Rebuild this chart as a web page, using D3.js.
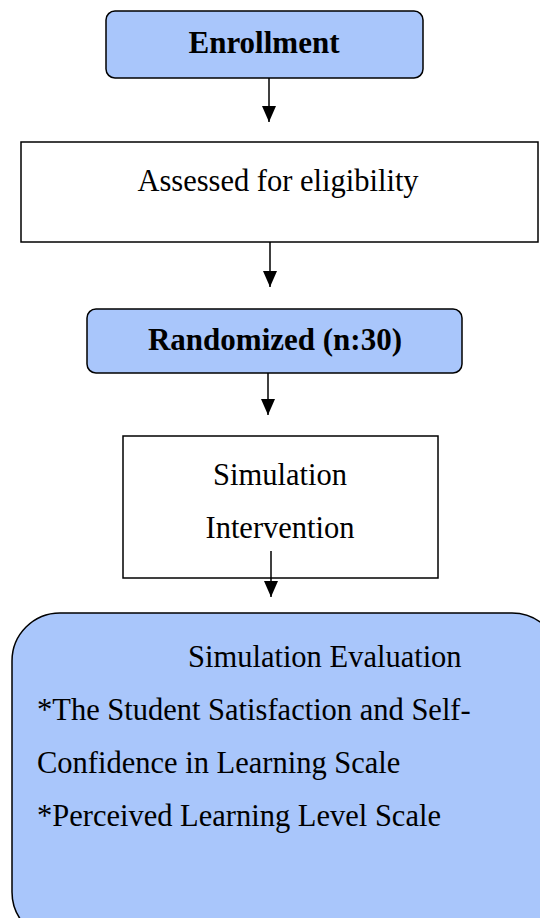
<!DOCTYPE html>
<html>
<head>
<meta charset="utf-8">
<script src="https://cdn.jsdelivr.net/npm/d3@7"></script>
<style>
  body { margin: 0; background: #fff; }
  svg { display: block; }
</style>
</head>
<body>
<div id="chart"></div>
<script>
// flow steps, top to bottom
var stepNames = ["Enrollment", "Assessed for eligibility", "Randomized (n:30)", "Simulation Intervention", "Simulation Evaluation"];
var stepLines = [
    ["Enrollment"],
    ["Assessed for eligibility"],
    ["Randomized (n:30)"],
    ["Simulation", "Intervention"],
    ["Simulation Evaluation", "*The Student Satisfaction and Self-", "Confidence in Learning Scale", "*Perceived Learning Level Scale"]
];
var stepBold = [true, false, true, false, false];
var stepFilled = [true, false, true, false, true];

var w = 540, h = 918;

// box layout (x0, y0, x1, y1, corner radius)
var boxes = [
    { x0: 106, y0: 11, x1: 423, y1: 78, r: 9 },
    { x0: 21, y0: 142, x1: 538, y1: 242, r: 0 },
    { x0: 87, y0: 309, x1: 462, y1: 373, r: 9 },
    { x0: 123, y0: 436, x1: 438, y1: 578, r: 0 },
    { x0: 12, y0: 613, x1: 560, y1: 940, r: 48 }
];
// text placement: anchor x, first baseline, line step, alignment
var textPos = [
    { x: 264, y: 53, dy: 0, anchor: "middle" },
    { x: 278, y: 191, dy: 0, anchor: "middle" },
    { x: 275, y: 350, dy: 0, anchor: "middle" },
    { x: 280, y: 485, dy: 53, anchor: "middle" },
    { x: 37, y: 667, dy: 53, anchor: "start" }
];
// arrows between steps: x, from y, to y
var arrows = [
    { x: 269, y0: 78, y1: 122 },
    { x: 270, y0: 242, y1: 287 },
    { x: 268, y0: 373, y1: 415 },
    { x: 271, y0: 551, y1: 597 }
];

var svg = d3.select("#chart").append("svg")
    .attr("width", w)
    .attr("height", h);

svg.append("defs").append("marker")
    .attr("id", "head")
    .attr("viewBox", "0 0 16 14")
    .attr("refX", 16).attr("refY", 7)
    .attr("markerWidth", 16).attr("markerHeight", 14)
    .attr("markerUnits", "userSpaceOnUse")
    .attr("orient", "auto")
    .append("path")
    .attr("d", "M0,0 L16,7 L0,14 Z")
    .attr("fill", "#000");

var data = stepNames.map(function (name, i) {
    return { name: name, lines: stepLines[i], bold: stepBold[i], filled: stepFilled[i], box: boxes[i], pos: textPos[i] };
});

var g = svg.selectAll(".step")
    .data(data)
    .enter().append("g")
    .attr("class", "step");

g.append("rect")
    .attr("x", d => d.box.x0)
    .attr("y", d => d.box.y0)
    .attr("width", d => d.box.x1 - d.box.x0)
    .attr("height", d => d.box.y1 - d.box.y0)
    .attr("rx", d => d.box.r)
    .attr("ry", d => d.box.r)
    .attr("fill", d => d.filled ? "#a9c6fb" : "#fff")
    .attr("stroke", "#000")
    .attr("stroke-width", 1.5);

g.each(function (d) {
    var sel = d3.select(this);
    d.lines.forEach(function (line, j) {
        // first line of the evaluation box is indented
        var x = d.pos.x;
        if (d.name === "Simulation Evaluation" && j === 0) x = 188;
        sel.append("text")
            .attr("x", x)
            .attr("y", d.pos.y + j * d.pos.dy)
            .attr("text-anchor", d.pos.anchor)
            .attr("font-family", "'Liberation Serif', 'Times New Roman', serif")
            .attr("font-size", d.bold ? 31 : 30.5)
            .attr("font-weight", d.bold ? "bold" : "normal")
            .attr("fill", "#000")
            .text(line);
    });
});

svg.selectAll(".arrow")
    .data(arrows)
    .enter().append("line")
    .attr("class", "arrow")
    .attr("x1", d => d.x).attr("x2", d => d.x)
    .attr("y1", d => d.y0).attr("y2", d => d.y1)
    .attr("stroke", "#000")
    .attr("stroke-width", 1.5)
    .attr("marker-end", "url(#head)");
</script>
</body>
</html>
